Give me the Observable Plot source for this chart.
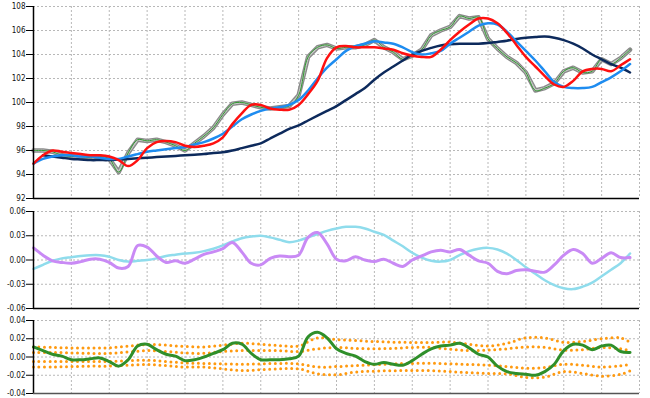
<!DOCTYPE html>
<html><head><meta charset="utf-8">
<script src="https://cdn.jsdelivr.net/npm/d3@7"></script>
<script src="https://cdn.jsdelivr.net/npm/@observablehq/plot@0.6"></script>
<style>
html,body{margin:0;padding:0;background:#fff;}
#chart{width:650px;}
#chart svg{display:block;}
</style></head><body><div id="chart"></div>
<script>
// x positions (trading day index)
const days = [0,5,10,15,20,25,30,35,40,45,50,55,60,65,70,75,80,85,90,95,100,105,110,115,120,125,130,135,140,145,150,155,160,165,170,175,180,185,190,195,200,205,210,215,220,225,230,235,240,245,250,255,260,265,270,275,280,285,290,295,300,305,310,315];
// top panel: price and moving averages
const price = [96.0,96.0,95.9,95.6,95.5,95.5,95.4,95.5,95.3,94.2,95.8,96.9,96.8,96.9,96.7,96.4,96.0,96.6,97.2,97.9,99.0,99.9,100.0,99.8,99.6,99.5,99.6,99.7,100.6,103.8,104.6,104.8,104.5,104.6,104.6,104.8,105.2,104.6,104.2,103.6,103.9,104.4,105.6,106.0,106.3,107.2,107.0,107.1,105.3,104.5,103.8,103.3,102.5,101.0,101.2,101.6,102.6,102.9,102.5,102.6,103.6,103.2,103.7,104.4];
const maShort = [94.9,95.6,96.0,95.9,95.8,95.7,95.6,95.6,95.5,95.2,94.7,95.2,96.2,96.7,96.8,96.7,96.4,96.3,96.4,96.6,97.1,98.2,99.1,99.8,99.8,99.5,99.4,99.4,99.8,100.7,101.8,103.7,104.6,104.7,104.6,104.6,104.6,104.5,104.4,104.1,103.9,103.8,103.8,104.4,105.2,105.9,106.5,107.0,107.0,106.6,105.8,104.8,103.8,103.0,102.2,101.5,101.3,101.8,102.6,102.8,102.8,102.6,103.1,103.6];
const maMedium = [94.9,95.3,95.5,95.6,95.6,95.5,95.5,95.4,95.3,95.3,95.5,95.7,95.9,96.0,96.1,96.2,96.3,96.5,96.7,97.0,97.4,98.0,98.6,99.0,99.3,99.5,99.6,99.8,100.2,101.0,102.0,102.9,103.6,104.3,104.7,104.9,105.1,105.0,104.9,104.6,104.2,104.0,104.1,104.3,104.9,105.4,105.9,106.4,106.6,106.5,105.9,105.1,104.3,103.5,102.6,101.7,101.3,101.2,101.2,101.3,101.7,102.1,102.6,103.2];
const maLong = [null,95.6,95.5,95.4,95.3,95.25,95.2,95.2,95.2,95.25,95.3,95.35,95.4,95.45,95.5,95.55,95.6,95.65,95.7,95.8,95.85,96.0,96.2,96.4,96.6,97.0,97.4,97.8,98.1,98.5,98.9,99.3,99.7,100.2,100.7,101.2,101.9,102.5,103.0,103.5,104.0,104.3,104.55,104.75,104.85,104.9,104.9,104.9,104.95,105.05,105.15,105.3,105.4,105.45,105.5,105.4,105.2,104.9,104.5,104.0,103.6,103.2,102.9,102.5];
// middle panel
const oscA = [0.015,0.006,-0.001,-0.003,-0.004,-0.002,0.001,0.001,-0.003,-0.010,-0.008,0.018,0.016,0.005,-0.003,-0.001,-0.004,0.001,0.007,0.010,0.014,0.0217,0.010,-0.004,-0.006,0.002,0.005,0.004,0.006,0.028,0.034,0.020,0.001,-0.001,0.004,0.000,-0.002,0.001,-0.004,-0.008,0.000,0.005,0.010,0.012,0.010,0.013,0.006,-0.001,-0.004,-0.014,-0.017,-0.013,-0.012,-0.014,-0.015,-0.006,0.006,0.013,0.008,-0.004,0.002,0.009,0.003,0.003];
const oscB = [-0.011,-0.006,-0.001,0.002,0.0035,0.005,0.006,0.006,0.004,0.000,-0.002,-0.001,0.000,0.002,0.005,0.0065,0.008,0.009,0.011,0.014,0.018,0.023,0.027,0.029,0.030,0.028,0.025,0.022,0.024,0.028,0.032,0.036,0.039,0.041,0.041,0.039,0.035,0.031,0.024,0.017,0.009,0.003,-0.001,-0.002,0.000,0.006,0.011,0.014,0.015,0.013,0.008,0.000,-0.009,-0.017,-0.025,-0.031,-0.035,-0.036,-0.033,-0.028,-0.020,-0.012,-0.004,0.008];
// bottom panel
const signal = [0.011,0.007,0.003,0.001,-0.003,-0.003,-0.002,-0.001,-0.005,-0.010,-0.003,0.012,0.014,0.008,0.003,0.001,-0.004,-0.003,0.000,0.004,0.008,0.015,0.014,0.004,-0.003,-0.003,-0.003,-0.002,0.001,0.022,0.027,0.021,0.009,0.004,0.001,-0.005,-0.008,-0.006,-0.008,-0.009,-0.004,0.003,0.009,0.012,0.013,0.015,0.010,0.003,0.000,-0.010,-0.016,-0.018,-0.019,-0.020,-0.016,-0.008,0.007,0.014,0.013,0.008,0.012,0.013,0.006,0.005];
const bandDays = [0,10,20,30,40,50,60,70,80,90,100,110,120,130,140,150,160,170,180,190,200,210,220,230,240,250,260,270,280,290,300,310,315];
const bandOuterUp = [0.011,0.0105,0.010,0.010,0.010,0.012,0.0137,0.013,0.0115,0.011,0.013,0.015,0.014,0.0125,0.012,0.021,0.019,0.018,0.017,0.0163,0.016,0.016,0.0163,0.014,0.012,0.015,0.021,0.021,0.016,0.017,0.020,0.021,0.0163];
const bandInnerUp = [0.005,0.005,0.0045,0.004,0.004,0.0055,0.007,0.006,0.0045,0.004,0.006,0.007,0.007,0.007,0.006,0.009,0.0105,0.0095,0.009,0.0095,0.0105,0.0105,0.0085,0.007,0.0075,0.009,0.011,0.0105,0.0075,0.008,0.0105,0.009,0.0071];
const bandInnerLo = [-0.005,-0.005,-0.005,-0.005,-0.005,-0.004,-0.0035,-0.005,-0.0065,-0.007,-0.0075,-0.008,-0.0075,-0.007,-0.0075,-0.011,-0.0105,-0.0095,-0.0085,-0.0075,-0.007,-0.0068,-0.0075,-0.0082,-0.009,-0.0104,-0.0123,-0.0115,-0.008,-0.009,-0.011,-0.0095,-0.0082];
const bandOuterLo = [-0.011,-0.011,-0.0105,-0.010,-0.010,-0.009,-0.0082,-0.0095,-0.011,-0.011,-0.013,-0.0148,-0.014,-0.013,-0.013,-0.0184,-0.0195,-0.0165,-0.0155,-0.015,-0.0148,-0.015,-0.016,-0.0172,-0.018,-0.0184,-0.0225,-0.022,-0.016,-0.018,-0.021,-0.019,-0.0152];
// ticks
const xGridTicks = [20,40,60,80,100,120,140,160,180,200,220,240,260,280,300,320];
const yTicksTop = [92,94,96,98,100,102,104,106,108];
const yTicksMid = [-0.06,-0.03,0,0.03,0.06];
const yTicksBot = [-0.04,-0.02,0,0.02,0.04];

const rows = days.map((d, i) => ({day: d, price: price[i], s: maShort[i], m: maMedium[i], l: maLong[i], a: oscA[i], b: oscB[i], g: signal[i]}));
const bands = bandDays.map((d, i) => ({day: d, ou: bandOuterUp[i], iu: bandInnerUp[i], il: bandInnerLo[i], ol: bandOuterLo[i]}));

const FONT = "'Liberation Sans Narrow', 'DejaVu Sans Condensed', 'Liberation Sans', sans-serif";
const gridStyle = {stroke: "#b8b8b8", strokeOpacity: 1, strokeWidth: 1, strokeDasharray: "2,2"};

function panel({height, marginTop, marginBottom, yDomain, yTicks, fmt, marks, bottomColor}) {
  return Plot.plot({
    width: 650, height, marginLeft: 33, marginRight: 11, marginTop, marginBottom,
    style: {fontFamily: FONT, fontSize: "8px", color: "#111", background: "#fff", overflow: "visible"},
    x: {domain: [0, 320], axis: null},
    y: {domain: yDomain, axis: null},
    marks: [
      Plot.gridX(xGridTicks, gridStyle),
      Plot.gridY(yTicks, gridStyle),
      ...marks,
      Plot.ruleX([0], {stroke: "#000", strokeWidth: 1.5}),
      Plot.ruleY([yDomain[0]], {stroke: bottomColor, strokeWidth: 1.5}),
      Plot.axisY(yTicks, {tickSize: 7, tickPadding: 1, tickFormat: fmt, stroke: "#000", fill: "#111"})
    ]
  });
}

const pricePanel = panel({
  height: 206, marginTop: 6, marginBottom: 8, yDomain: [92, 108], yTicks: yTicksTop,
  fmt: d => String(d), bottomColor: "#000",
  marks: [
    Plot.line(rows, {x: "day", y: "price", stroke: "#8a8a8a", strokeWidth: 4.5}),
    Plot.line(rows, {x: "day", y: "price", stroke: "#c4c4c4", strokeWidth: 2, strokeDasharray: "1,1.5"}),
    Plot.line(rows, {x: "day", y: "price", stroke: "#2e9a2e", strokeWidth: 1, curve: "catmull-rom"}),
    Plot.line(rows, {x: "day", y: "l", stroke: "#0d2a5c", strokeWidth: 2.5, curve: "catmull-rom"}),
    Plot.line(rows, {x: "day", y: "m", stroke: "#1e8cf0", strokeWidth: 2.5, curve: "catmull-rom"}),
    Plot.line(rows, {x: "day", y: "s", stroke: "#ff1010", strokeWidth: 2.5, curve: "catmull-rom"})
  ]
});

const midPanel = panel({
  height: 108, marginTop: 5, marginBottom: 6, yDomain: [-0.06, 0.06], yTicks: yTicksMid,
  fmt: d => d.toFixed(2), bottomColor: "#000",
  marks: [
    Plot.line(rows, {x: "day", y: "b", stroke: "#8fdcec", strokeWidth: 2.5, curve: "catmull-rom"}),
    Plot.line(rows, {x: "day", y: "a", stroke: "#c98af5", strokeWidth: 3, curve: "catmull-rom"})
  ]
});

const dotted = {stroke: "#ff9a10", strokeWidth: 3, strokeDasharray: "0,5.5", strokeLinecap: "round", curve: "catmull-rom"};
const botPanel = panel({
  height: 84, marginTop: 6, marginBottom: 5, yDomain: [-0.04, 0.04], yTicks: yTicksBot,
  fmt: d => d.toFixed(2), bottomColor: "#555",
  marks: [
    Plot.line(bands, {x: "day", y: "ou", ...dotted}),
    Plot.line(bands, {x: "day", y: "iu", ...dotted}),
    Plot.line(bands, {x: "day", y: "il", ...dotted}),
    Plot.line(bands, {x: "day", y: "ol", ...dotted}),
    Plot.line(rows, {x: "day", y: "g", stroke: "#2f8f2a", strokeWidth: 3, curve: "catmull-rom"})
  ]
});

document.getElementById("chart").append(pricePanel, midPanel, botPanel);
</script></body></html>
